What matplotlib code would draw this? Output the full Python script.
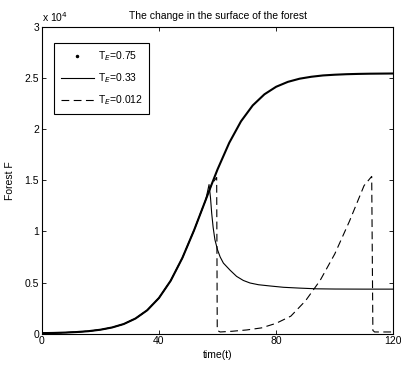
import matplotlib
matplotlib.use("Agg")
import matplotlib.pyplot as plt
from matplotlib.lines import Line2D

plt.rcParams["font.family"] = ["Liberation Sans", "DejaVu Sans"]

# values
t_075 = [0, 4, 8, 12, 16, 20, 24, 28, 32, 36, 40, 44, 48, 52, 56, 58, 60,
         64, 68, 72, 76, 80, 84, 88, 92, 96, 100, 104, 108, 112, 116, 120]
f_075 = [35, 55, 90, 145, 230, 370, 590, 930, 1470, 2280, 3480, 5170, 7410,
         10130, 13130, 14630, 16090, 18700, 20800, 22360, 23450, 24190, 24670,
         24980, 25170, 25300, 25370, 25420, 25450, 25470, 25480, 25490]

t_033 = [0, 4, 8, 12, 16, 20, 24, 28, 32, 36, 40, 44, 48, 52, 56, 57.1,
         57.6, 58, 58.5, 59.1, 60, 60.9, 62, 64.3, 66.5, 68.8, 71.1, 74,
         77.9, 82.5, 88, 93.9, 100, 110, 120]
f_033 = [35, 55, 90, 145, 230, 370, 590, 930, 1470, 2280, 3480, 5170, 7410,
         10130, 13130, 14600, 13300, 11800, 10400, 9200, 8200, 7500, 6900,
         6200, 5600, 5200, 4950, 4780, 4660, 4530, 4450, 4380, 4360, 4350,
         4350]

t_0012 = [0, 4, 8, 12, 16, 20, 24, 28, 32, 36, 40, 44, 48, 52, 56, 58, 59.7,
          59.9, 60.9, 65, 70, 75, 80, 85, 90, 95, 100, 105, 110, 112.6,
          113.0, 113.6, 116, 120]
f_0012 = [35, 55, 90, 145, 230, 370, 590, 930, 1470, 2280, 3480, 5170, 7410,
          10130, 13130, 14630, 15300, 300, 150, 220, 350, 550, 1000, 1700,
          3200, 5200, 7800, 11000, 14500, 15400, 300, 150, 150, 150]

labels = ["T$_E$=0.75", "T$_E$=0.33", "T$_E$=0.012"]
y_ticks = [0, 5000, 10000, 15000, 20000, 25000, 30000]
y_tick_labels = ["0", "0.5", "1", "1.5", "2", "2.5", "3"]
x_ticks = [0, 40, 80, 120]

fig = plt.figure(figsize=(4.01, 3.69), dpi=100)
ax = fig.add_axes([0.104, 0.0962, 0.877, 0.8293])

ax.plot(t_075, f_075, color="black", lw=1.5)
ax.plot(t_033, f_033, color="black", lw=0.8)
ax.plot(t_0012, f_0012, color="black", lw=0.8, dashes=(7, 4))

ax.set_xlim(0, 120)
ax.set_ylim(0, 30000)
ax.set_xticks(x_ticks)
ax.set_yticks(y_ticks)
ax.set_yticklabels(y_tick_labels)
ax.tick_params(direction="in", top=True, right=True, length=3, width=0.6,
               labelsize=7.5, pad=2)
for s in ax.spines.values():
    s.set_linewidth(0.8)

ax.text(0.0, 1.012, "x 10$^4$", transform=ax.transAxes, fontsize=7.5,
        ha="left", va="bottom")
ax.set_title("The change in the surface of the forest", fontsize=7.5, pad=6)
ax.set_xlabel("time(t)", fontsize=7.5, labelpad=3)
ax.set_ylabel("Forest F", fontsize=7.5, labelpad=7)

handles = [
    Line2D([], [], color="black", marker=".", markersize=3, ls="None"),
    Line2D([], [], color="black", lw=0.8),
    Line2D([], [], color="black", lw=0.8, dashes=(7, 4)),
]
leg = ax.legend(handles, labels, loc="upper left",
                bbox_to_anchor=(0.036, 0.949), borderaxespad=0,
                fontsize=7.5, fancybox=False, framealpha=1,
                handlelength=3.2, handletextpad=0.4, labelspacing=0.8,
                borderpad=0.6)
leg.get_frame().set_edgecolor("black")
leg.get_frame().set_linewidth(0.8)

fig.savefig("out.png", dpi=100)
